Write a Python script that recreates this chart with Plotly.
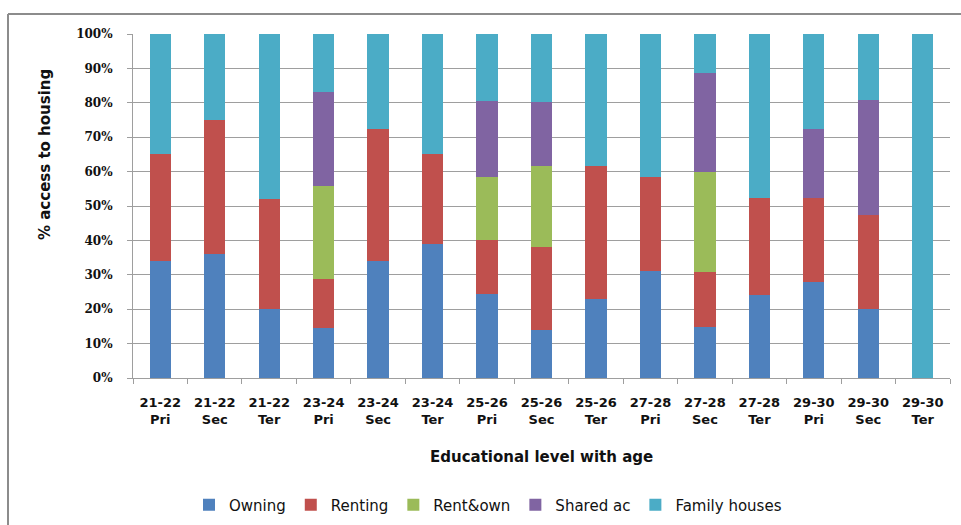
import plotly.graph_objects as go

# Age band and education level for each column
ages = ["21-22", "21-22", "21-22", "23-24", "23-24", "23-24", "25-26", "25-26",
        "25-26", "27-28", "27-28", "27-28", "29-30", "29-30", "29-30"]
levels = ["Pri", "Sec", "Ter", "Pri", "Sec", "Ter", "Pri", "Sec",
          "Ter", "Pri", "Sec", "Ter", "Pri", "Sec", "Ter"]
categories = [f"{a}<br>{l}" for a, l in zip(ages, levels)]

# Share of each housing type (%) per column
owning = [34, 36, 20, 14.5, 34, 39, 24.5, 14, 23, 31, 14.7, 24, 28, 20, 0]
renting = [31, 39, 32, 14.3, 38.3, 26, 15.6, 24, 38.5, 27.3, 16.1, 28.2, 24.3, 27.3, 0]
rent_own = [0, 0, 0, 27.1, 0, 0, 18.3, 23.6, 0, 0, 29, 0, 0, 0, 0]
shared_ac = [0, 0, 0, 27.1, 0, 0, 22.2, 18.7, 0, 0, 29, 0, 20.2, 33.5, 0]
family_houses = [35, 25, 48, 17, 27.7, 35, 19.4, 19.7, 38.5, 41.7, 11.2, 47.8, 27.5, 19.2, 100]

series = [
    ("Owning", owning, "#4F81BD"),
    ("Renting", renting, "#C0504D"),
    ("Rent&own", rent_own, "#9BBB59"),
    ("Shared ac", shared_ac, "#8064A2"),
    ("Family houses", family_houses, "#4BACC6"),
]

fig = go.Figure()
for name, vals, color in series:
    fig.add_trace(go.Bar(x=categories, y=vals, name=name,
                         marker=dict(color=color, line=dict(width=0))))

W, H = 961, 525
L, R, T, B = 133, 11, 34, 147
pw, ph = W - L - R, H - T - B


def px_x(x):
    return (x - L) / pw


def px_y(y):
    return (H - B - y) / ph


grid = "#9E9E9E"

fig.update_layout(
    width=W, height=H,
    margin=dict(l=L, r=R, t=T, b=B, autoexpand=False),
    barmode="stack",
    bargap=0.61,
    paper_bgcolor="white",
    plot_bgcolor="white",
    showlegend=True,
    legend=dict(orientation="h", x=px_x(488), xanchor="center",
                y=px_y(505), yanchor="middle",
                font=dict(family="DejaVu Sans", size=15, color="#111111"),
                itemwidth=30, traceorder="normal"),
    xaxis=dict(
        tickfont=dict(family="DejaVu Sans", size=13, color="#111111", weight="bold"),
        showline=True, linecolor=grid, linewidth=1,
        ticks="outside", tickson="boundaries", ticklen=5, tickcolor=grid,
        showgrid=False, ticklabelstandoff=12, automargin=False,
    ),
    yaxis=dict(
        range=[0, 100], dtick=10, ticksuffix="%",
        tickfont=dict(family="DejaVu Serif", size=12, color="#111111", weight="bold"),
        showline=True, linecolor=grid, linewidth=1,
        ticks="outside", ticklen=5, tickcolor=grid,
        showgrid=True, gridcolor=grid, gridwidth=1,
        zeroline=False, ticklabelstandoff=12, automargin=False,
    ),
    annotations=[
        dict(text="% access to housing", xref="paper", yref="paper",
             x=px_x(45), y=px_y(155), textangle=-90, showarrow=False,
             xanchor="center", yanchor="middle",
             font=dict(family="DejaVu Sans", size=15, color="#111111", weight="bold")),
        dict(text="Educational level with age", xref="paper", yref="paper",
             x=px_x(541), y=px_y(457), showarrow=False,
             xanchor="center", yanchor="middle",
             font=dict(family="DejaVu Sans", size=15, color="#111111", weight="bold")),
    ],
    shapes=[
        # outer chart frame (left and top edges)
        dict(type="line", xref="paper", yref="paper",
             x0=px_x(8), x1=px_x(8), y0=px_y(14), y1=px_y(530),
             line=dict(color="#8C8C8C", width=2)),
        dict(type="line", xref="paper", yref="paper",
             x0=px_x(8), x1=px_x(970), y0=px_y(14), y1=px_y(14),
             line=dict(color="#8C8C8C", width=2)),
    ],
)

fig.write_html("out.html")
